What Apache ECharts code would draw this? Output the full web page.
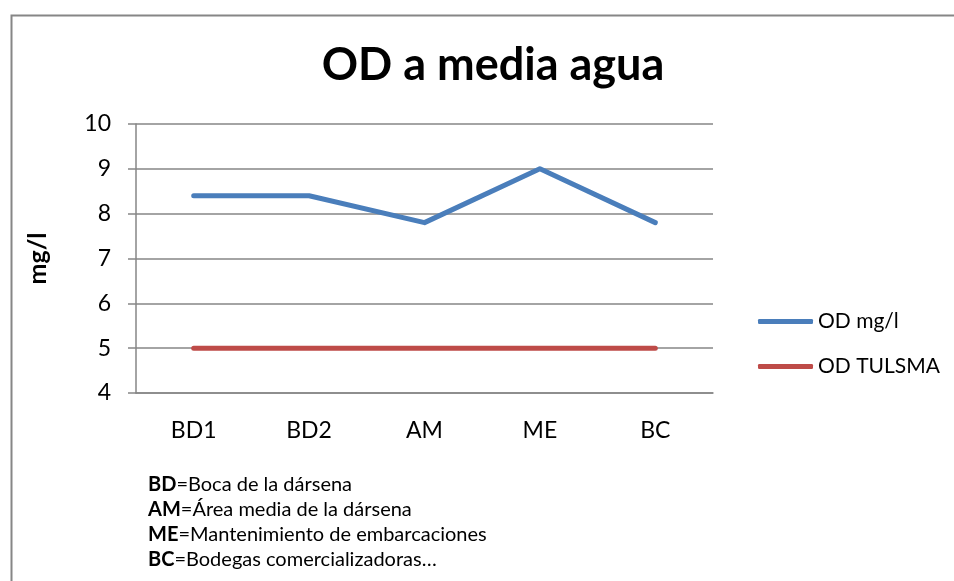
<!DOCTYPE html>
<html>
<head>
<meta charset="utf-8">
<title>OD a media agua</title>
<script src="https://cdn.jsdelivr.net/npm/echarts@6/dist/echarts.min.js"></script>
<style>
    html, body { margin: 0; padding: 0; background: #fff; }
    #chart-od { width: 954px; height: 581px; }
</style>
</head>
<body>
<div id="chart-od"></div>
<script>
var categories = ["BD1", "BD2", "AM", "ME", "BC"];
var odMgL = [8.4, 8.4, 7.8, 9.0, 7.8];
var odTulsma = [5, 5, 5, 5, 5];
var yTicks = [4, 5, 6, 7, 8, 9, 10];
var notas = [
    ["BD", "Boca de la dársena"],
    ["AM", "Área media de la dársena"],
    ["ME", "Mantenimiento de embarcaciones"],
    ["BC", "Bodegas comercializadoras…"]
];

var FONT = "Lato";
var GRIS = "#868686";

$ready(() => {
    var myChart = echarts.init(document.getElementById('chart-od'));

    // texto de notas con el prefijo en negrita
    var notaTexto = notas.map(n => "{b|" + n[0] + "}{r|=" + n[1] + "}").join("\n");

    var option = {
        backgroundColor: "#fff",
        textStyle: { fontFamily: FONT, color: "#000" },
        title: {
            text: "OD a media agua",
            left: 488,
            top: 38,
            textAlign: "center",
            textStyle: { fontFamily: FONT, fontWeight: "bold", fontSize: 45, color: "#000" }
        },
        legend: {
            orient: "vertical",
            left: 753,
            top: 306,
            icon: "roundRect",
            itemWidth: 55,
            itemHeight: 5,
            itemGap: 24,
            itemTextGap: 3,
            textStyle: { fontFamily: FONT, fontSize: 21, color: "#000" },
            data: ["OD mg/l", "OD TULSMA"]
        },
        grid: { left: 136, right: 241, top: 124, bottom: 188 },
        xAxis: {
            type: "category",
            data: categories,
            boundaryGap: true,
            axisLine: { lineStyle: { color: GRIS, width: 1.5 } },
            axisTick: { show: false },
            axisLabel: { fontFamily: FONT, fontSize: 23, color: "#000", margin: 26 }
        },
        yAxis: {
            type: "value",
            min: yTicks[0],
            max: yTicks[yTicks.length - 1],
            interval: 1,
            name: "mg/l",
            nameLocation: "middle",
            nameGap: 86,
            nameTextStyle: { fontFamily: FONT, fontWeight: "bold", fontSize: 25, color: "#000" },
            axisLine: { show: true, lineStyle: { color: GRIS, width: 1.5 } },
            axisTick: { show: true, length: 8, lineStyle: { color: GRIS, width: 1.5 } },
            axisLabel: { fontFamily: FONT, fontSize: 23, color: "#000", margin: 25 },
            splitLine: { lineStyle: { color: GRIS, width: 1.5 } }
        },
        series: [
            {
                name: "OD mg/l",
                type: "line",
                data: odMgL,
                symbol: "none",
                color: "#4a7ebb",
                lineStyle: { width: 5, color: "#4a7ebb", cap: "round", join: "round" }
            },
            {
                name: "OD TULSMA",
                type: "line",
                data: odTulsma,
                symbol: "none",
                color: "#be4b48",
                lineStyle: { width: 5, color: "#be4b48", cap: "round", join: "round" }
            }
        ],
        graphic: [
            {
                type: "rect",
                left: 9,
                top: 13,
                shape: { width: 960, height: 600 },
                style: { fill: null, stroke: GRIS, lineWidth: 2 },
                silent: true
            },
            {
                type: "text",
                left: 148,
                top: 472,
                style: {
                    text: notaTexto,
                    fontFamily: FONT,
                    fontSize: 20,
                    lineHeight: 25,
                    fill: "#000",
                    rich: {
                        b: { fontFamily: FONT, fontWeight: "bold", fontSize: 20, lineHeight: 25 },
                        r: { fontFamily: FONT, fontSize: 20, lineHeight: 25 }
                    }
                }
            }
        ]
    };

    myChart.setOption(option);
});

function $ready(fn) {
    if (document.readyState !== "loading") fn();
    else document.addEventListener("DOMContentLoaded", fn);
}
</script>
</body>
</html>
